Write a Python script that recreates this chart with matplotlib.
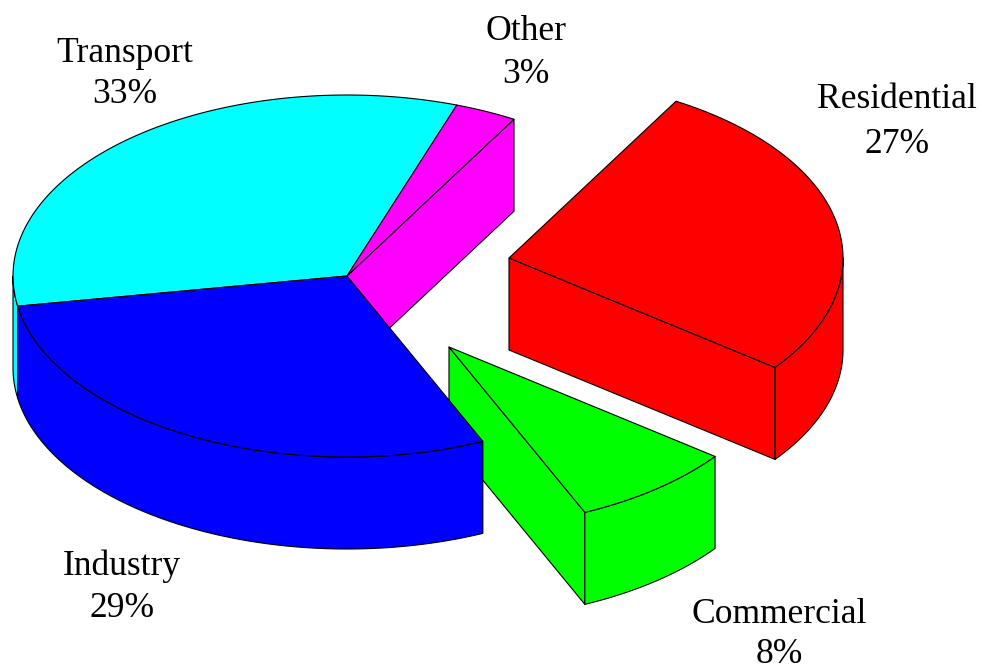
import numpy as np
import matplotlib
matplotlib.use("Agg")
import matplotlib.pyplot as plt

# shares go clockwise, starting at the left of the pie
labels = ["Transport", "Other", "Residential", "Commercial", "Industry"]
shares = [33, 3, 27, 8, 29]
colors = ["#00ffff", "#ff00ff", "#ff0000", "#00ff00", "#0000ff"]
explode_x = [0, 0, 162, 102, 0]
explode_y = [0, 0, -18, 71, 0]
label_x = [125, 526, 897, 779, 122]
label_y = [74, 53, 122, 634.5, 587]
label_gap = [1.32, 1.42, 1.45, 1.3, 1.37]

start_angle = 189.6
cx, cy = 347, 276
rx, ry = 334, 181
depth = 92

plt.rcParams["font.family"] = ["Liberation Serif", "DejaVu Serif"]

fig = plt.figure(figsize=(9.82, 6.72), dpi=100)
ax = fig.add_axes([0, 0, 1, 1])
ax.set_xlim(0, 982)
ax.set_ylim(672, 0)
ax.axis("off")


def arc(x0, y0, a1, a2):
    t = np.radians(np.linspace(a1, a2, 120))
    return np.column_stack([x0 + rx * np.cos(t), y0 - ry * np.sin(t)])


def poly(pts, col, z):
    ax.fill(pts[:, 0], pts[:, 1], facecolor=col, edgecolor="black", lw=0.8,
            joinstyle="round", zorder=z)


ends = start_angle - np.cumsum(shares) * 3.6
starts = ends + np.array(shares) * 3.6

draw_order = [2, 3, 0, 1, 4]
for z, i in enumerate(draw_order):
    x0 = cx + explode_x[i]
    y0 = cy + explode_y[i]
    a1, a2 = starts[i], ends[i]  # a1 > a2, clockwise

    # cut faces, only the ones turned to the viewer
    for a, normal in ((a1, a1 + 90), (a2, a2 - 90)):
        if np.sin(np.radians(normal)) < 0:
            rim = arc(x0, y0, a, a)[0]
            face = np.array([[x0, y0], rim, rim + [0, depth], [x0, y0 + depth]])
            poly(face, colors[i], z * 10 + 1)

    # outer wall, front half only (angles 180..360)
    lo, hi = a2 % 360, a1 % 360
    if lo > hi:
        lo -= 360
    if lo < 0:
        w1 = max(lo + 360, 180)
        w2 = 360
        if hi > 180:
            w2 = hi
    else:
        w1 = max(lo, 180)
        w2 = min(hi, 360)
    if w2 > w1:
        top = arc(x0, y0, w1, w2)
        wall = np.vstack([top, (top + [0, depth])[::-1]])
        poly(wall, colors[i], z * 10 + 2)

    # top of the slice
    top = np.vstack([[x0, y0], arc(x0, y0, a1, a2)])
    poly(top, colors[i], z * 10 + 3)

for i in range(len(labels)):
    ax.text(label_x[i], label_y[i], f"{labels[i]}\n{shares[i]}%", ha="center",
            va="center", fontsize=25.6, color="black", linespacing=label_gap[i],
            zorder=100)

fig.savefig("out.png", dpi=100, facecolor="white")
